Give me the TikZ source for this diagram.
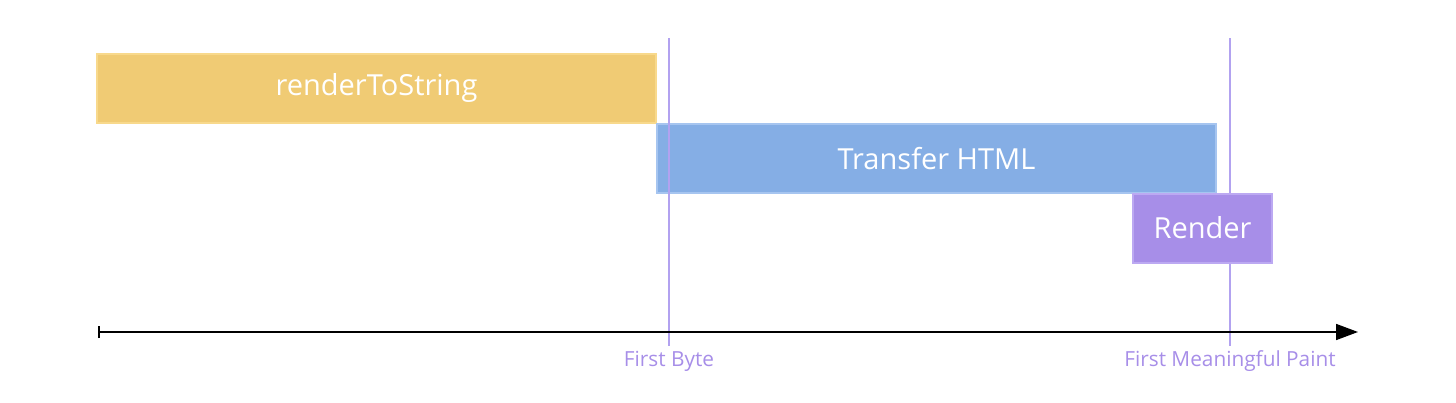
\documentclass[tikz,border=0pt]{standalone}
\usepackage{fontspec}
\setmainfont{Open Sans}
\usetikzlibrary{arrows.meta}
\definecolor{ybar}{HTML}{F0CB74}
\definecolor{yedge}{HTML}{F8D98C}
\definecolor{bbar}{HTML}{85AEE5}
\definecolor{bedge}{HTML}{A6C5F0}
\definecolor{pbar}{HTML}{A78EE8}
\definecolor{pedge}{HTML}{BCA9F2}
\definecolor{mline}{HTML}{B2A2F0}
\definecolor{mtext}{HTML}{A78EE8}
\tikzset{
  bar/.style={draw=#1, line width=1pt, anchor=north west, inner sep=0pt},
  bartext/.style={text=white, font=\fontsize{14.5}{16}\selectfont, yshift=0.2pt},
  marker/.style={draw=mline, line width=1.1pt},
  mlabel/.style={text=mtext, font=\fontsize{10.4}{12}\selectfont, inner sep=0pt}
}
\begin{document}
\begin{tikzpicture}[x=0.5pt,y=-0.5pt]
\useasboundingbox (0,0) rectangle (1456,402);
\node[bar=yedge, fill=ybar, minimum width=279.5pt, minimum height=34.5pt] (rts) at (96,53) {};
\node[bartext] (rtst) at (rts.center) {renderToString};
\node[bar=bedge, fill=bbar, minimum width=279.5pt, minimum height=34.5pt] (th) at (656,123) {};
\node[bartext] (tht) at (th.center) {Transfer HTML};
\coordinate (fbtop) at (669,38);
\coordinate (fbbot) at (669,346);
\coordinate (fmtop) at (1230,38);
\coordinate (fmbot) at (1230,346);
\draw[marker] (fbtop) -- (fbbot);
\draw[marker] (fmtop) -- (fmbot);
\node[bar=pedge, fill=pbar, minimum width=69.5pt, minimum height=34.5pt] (rd) at (1132,193) {};
\node[bartext] (rdt) at (rd.center) {Render};
\coordinate (ax0) at (98,332);
\coordinate (ax1) at (1358,332);
\draw[line width=0.8pt, {Bar[width=6pt]}-{Triangle[length=11pt,width=8pt]}] (ax0) -- (ax1);
\node[mlabel] (fb) at (669,361) {First Byte};
\node[mlabel] (fm) at (1230,361) {First Meaningful Paint};
\end{tikzpicture}
\end{document}
